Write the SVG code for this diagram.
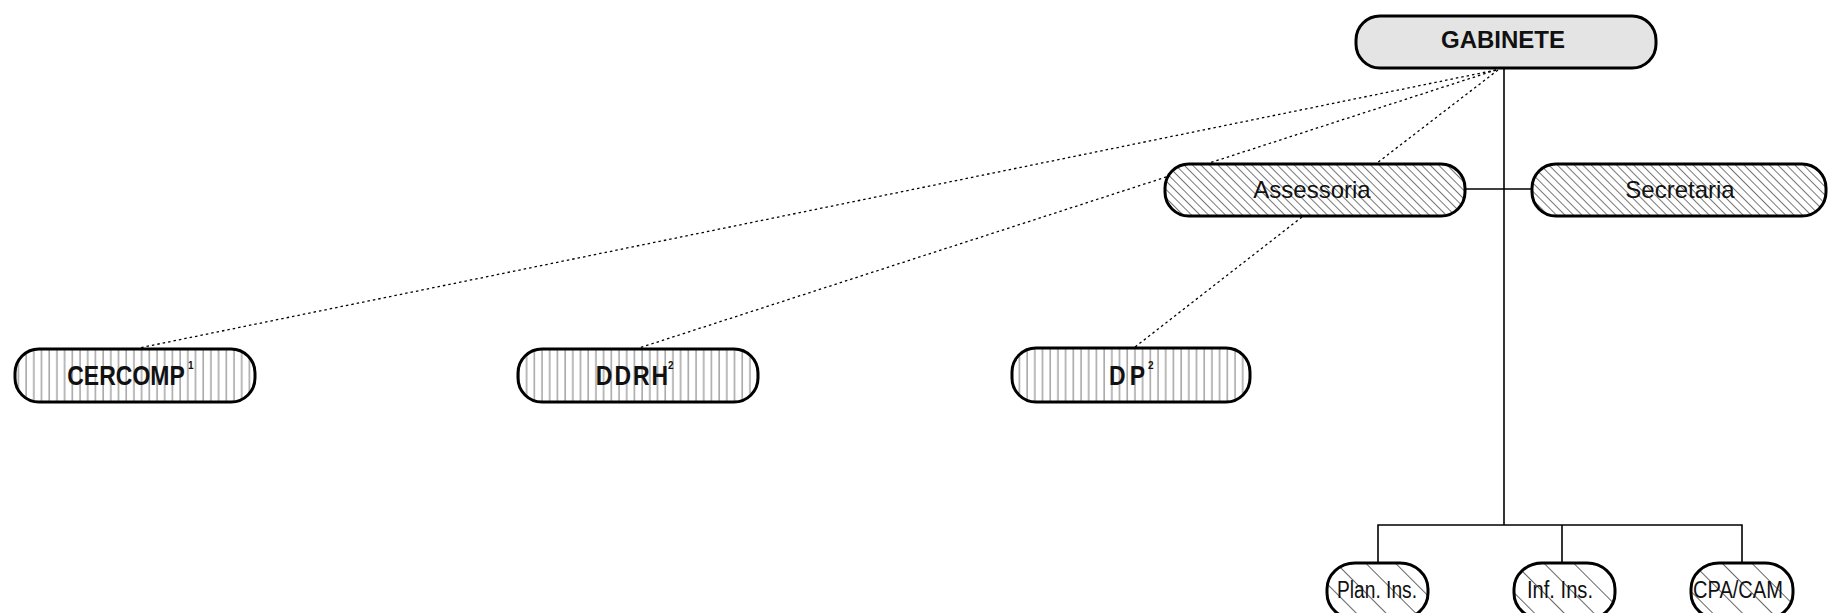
<svg xmlns="http://www.w3.org/2000/svg" width="1829" height="613" viewBox="0 0 1829 613">
<style>
.node{stroke:#000;stroke-width:3}
.solid{stroke:#000;stroke-width:1.6;fill:none}
.dot{stroke:#000;stroke-width:1.3;fill:none;stroke-dasharray:2.5 3}
.t{font-family:"Liberation Sans",Arial,sans-serif;fill:#111;text-anchor:middle}
.b{font-weight:bold}
.sup{font-family:"Liberation Sans",Arial,sans-serif;font-weight:bold;fill:#111;font-size:10px}
</style>
<defs>
<pattern id="diag" width="6" height="6" patternUnits="userSpaceOnUse" patternTransform="rotate(-45)">
<rect width="6" height="6" fill="#fff"/>
<line x1="0.5" y1="0" x2="0.5" y2="6" stroke="#777" stroke-width="1"/>
</pattern>
<pattern id="vert" width="7.7" height="10" patternUnits="userSpaceOnUse">
<rect width="7.7" height="10" fill="#fff"/>
<line x1="3" y1="0" x2="3" y2="10" stroke="#777" stroke-width="1"/>
</pattern>
<pattern id="wide" width="21" height="21" patternUnits="userSpaceOnUse" patternTransform="rotate(-45)">
<rect width="21" height="21" fill="#fff"/>
<line x1="0.5" y1="0" x2="0.5" y2="21" stroke="#666" stroke-width="1"/>
</pattern>
</defs>
<g id="connectors">
<line class="solid" x1="1504" y1="68" x2="1504" y2="525"/>
<line class="solid" x1="1465" y1="189" x2="1532" y2="189"/>
<polyline class="solid" points="1378,563 1378,525 1742,525 1742,563"/>
<line class="solid" x1="1562" y1="525" x2="1562" y2="563"/>
<line class="dot" x1="1496" y1="70" x2="139" y2="348"/>
<line class="dot" x1="1496" y1="70" x2="639" y2="348"/>
<line class="dot" x1="1498" y1="70" x2="1377" y2="163"/>
<line class="dot" x1="1302" y1="217" x2="1135" y2="347"/>
</g>
<g id="gabinete">
<rect class="node" x="1356" y="16" width="300" height="52" rx="24" ry="24" fill="#e4e4e4"/>
<text class="t b" x="1503" y="48" font-size="24">GABINETE</text>
</g>
<g id="assessoria">
<rect class="node" x="1165" y="164" width="300" height="52" rx="24" ry="24" fill="url(#diag)"/>
<text class="t" x="1312" y="198" font-size="24">Assessoria</text>
</g>
<g id="secretaria">
<rect class="node" x="1532" y="164" width="294" height="52" rx="24" ry="24" fill="url(#diag)"/>
<text class="t" x="1680" y="198" font-size="24">Secretaria</text>
</g>
<g id="cercomp">
<rect class="node" x="15" y="349" width="240" height="53" rx="24" ry="24" fill="url(#vert)"/>
<text class="t b" font-size="23" transform="translate(126,385) scale(1,1.2)">CERCOMP</text>
<text class="sup" x="188" y="369">1</text>
</g>
<g id="ddrh">
<rect class="node" x="518" y="349" width="240" height="53" rx="24" ry="24" fill="url(#vert)"/>
<text class="t b" font-size="23" letter-spacing="2" transform="translate(633,385) scale(1,1.2)">DDRH</text>
<text class="sup" x="668" y="369">2</text>
</g>
<g id="dp">
<rect class="node" x="1012" y="348" width="238" height="54" rx="24" ry="24" fill="url(#vert)"/>
<text class="t b" font-size="23" letter-spacing="4" transform="translate(1129,385) scale(1,1.2)">DP</text>
<text class="sup" x="1148" y="369">2</text>
</g>
<g id="plan-ins">
<rect class="node" x="1327" y="563" width="101" height="56" rx="28" ry="26" fill="url(#wide)"/>
<text class="t" x="1377" y="598" font-size="23" textLength="80" lengthAdjust="spacingAndGlyphs">Plan. Ins.</text>
</g>
<g id="inf-ins">
<rect class="node" x="1514" y="563" width="101" height="56" rx="28" ry="26" fill="url(#wide)"/>
<text class="t" x="1560" y="598" font-size="23" textLength="66" lengthAdjust="spacingAndGlyphs">Inf. Ins.</text>
</g>
<g id="cpa-cam">
<rect class="node" x="1691" y="563" width="102" height="56" rx="28" ry="26" fill="url(#wide)"/>
<text class="t" x="1738" y="598" font-size="23" textLength="90" lengthAdjust="spacingAndGlyphs">CPA/CAM</text>
</g>
</svg>
